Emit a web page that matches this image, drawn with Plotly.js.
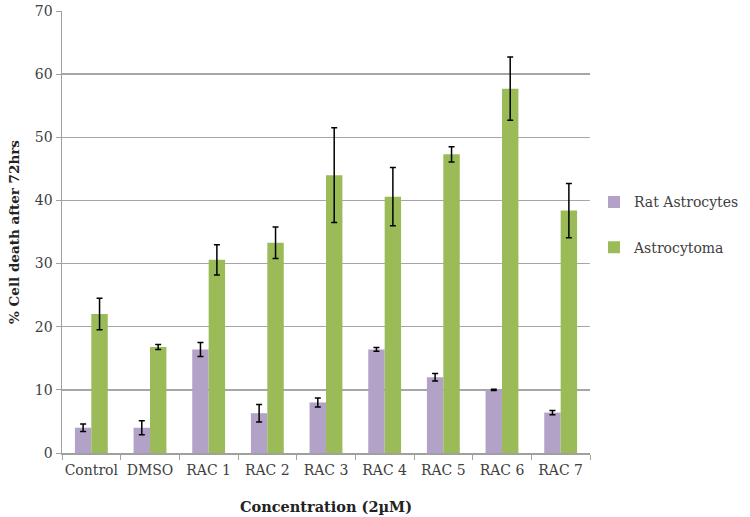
<!DOCTYPE html>
<html>
<head>
<meta charset="utf-8">
<script src="https://cdn.plot.ly/plotly-3.0.1.min.js"></script>
<style>html,body{margin:0;padding:0;background:#fff;}</style>
</head>
<body>
<div id="chart" style="width:750px;height:517px;"></div>
<script>
const categories = ["Control", "DMSO", "RAC 1", "RAC 2", "RAC 3", "RAC 4", "RAC 5", "RAC 6", "RAC 7"];
const ratAstrocytes = [4.0, 4.0, 16.4, 6.3, 8.0, 16.4, 12.0, 10.0, 6.4];
const ratErr = [0.6, 1.1, 1.1, 1.4, 0.7, 0.3, 0.6, 0.1, 0.35];
const astrocytoma = [22.0, 16.8, 30.6, 33.3, 44.0, 40.6, 47.3, 57.7, 38.4];
const astroErr = [2.5, 0.4, 2.4, 2.5, 7.5, 4.6, 1.2, 5.0, 4.3];
const yTicks = [0, 10, 20, 30, 40, 50, 60, 70];

const font = "DejaVu Serif, Liberation Serif, serif";
const errStyle = {type: "data", visible: true, color: "#000", thickness: 1.5, width: 3};

const traces = [
  {type: "bar", name: "Rat Astrocytes", legendgroup: "a", x: categories, y: ratAstrocytes,
   marker: {color: "#b3a2c7"}, error_y: Object.assign({array: ratErr}, errStyle)},
  {type: "bar", name: "Astrocytoma", legendgroup: "b", x: categories, y: astrocytoma,
   marker: {color: "#9bbb59"}, error_y: Object.assign({array: astroErr}, errStyle)}
];

const layout = {
  width: 750, height: 517,
  margin: {l: 62, r: 160, t: 11, b: 64, autoexpand: false},
  paper_bgcolor: "#fff", plot_bgcolor: "#fff",
  barmode: "group", bargap: 0.44, bargroupgap: 0,
  font: {family: font, color: "#404040", size: 13},
  xaxis: {
    type: "category", showline: true, linecolor: "#a0a0a0", linewidth: 1.5,
    ticks: "outside", tickson: "boundaries", ticklen: 5, tickcolor: "#a0a0a0",
    tickangle: 0, ticklabelstandoff: 4,
    tickfont: {family: font, size: 14, color: "#404040"},
    title: {text: "<b>Concentration (2µM)</b>", font: {family: font, size: 14.5, color: "#222"}, standoff: 24},
    showgrid: false, automargin: false
  },
  yaxis: {
    range: [0, 70], tickvals: yTicks, ticktext: yTicks.map(String),
    showline: true, linecolor: "#a0a0a0", linewidth: 1.5,
    ticks: "outside", ticklen: 5, tickcolor: "#a0a0a0",
    gridcolor: "#a6a6a6", gridwidth: 1.5, zeroline: false,
    tickfont: {family: font, size: 14, color: "#404040"},
    title: {text: "<b>% Cell death after 72hrs</b>", font: {family: font, size: 13.5, color: "#222"}, standoff: 12},
    automargin: false
  },
  legend: {
    xref: "container", yref: "container",
    x: 0.792, y: 0.565, xanchor: "left", yanchor: "middle",
    font: {family: font, size: 14, color: "#404040"},
    traceorder: "grouped", tracegroupgap: 24, itemwidth: 30
  },
  showlegend: true
};

Plotly.newPlot("chart", traces, layout, {displayModeBar: false, staticPlot: true});
</script>
</body>
</html>
